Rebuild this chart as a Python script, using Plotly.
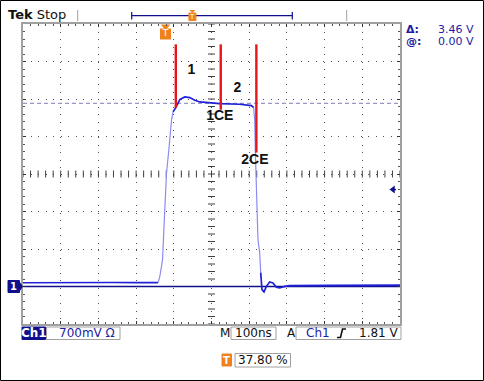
import plotly.graph_objects as go

# ---------------- data (time in ns, voltage in V) ----------------
ns_per_div = 100
volts_per_div = 0.7
ground_div = 3            # ground reference sits 3 div below centre
trigger_pct = 37.80
trigger_level = 1.81
delta_text = "3.46 V"
at_text = "0.00 V"

base_left_t = [-500, -420, -340, -260, -200, -141.6]
base_left_v = [0.070, 0.075, 0.070, 0.075, 0.072, 0.072]
rise_t = [-141.6, -137.1, -132.6, -129.9, -125.2, -119.3, -112.4, -106.1, -101.9]
rise_v = [0.072, 0.19, 0.375, 0.50, 1.244, 2.113, 2.608, 3.105, 3.259]
top_t = [-101.9, -94.7, -84.1, -70.9, -57.6, -44.4, -31.1, -4.6, 21.9, 74.8, 105.8, 111.9]
top_v = [3.259, 3.341, 3.49, 3.538, 3.527, 3.477, 3.445, 3.427, 3.415, 3.402, 3.378, 3.341]
fall_t = [111.9, 114.6, 116.4, 118.0, 123.3, 127.8, 130.5]
fall_v = [3.341, 3.105, 2.491, 2.05, 0.872, 0.63, 0.258]
tail_t = [130.5, 133.9, 139.2, 145.6, 154.3, 163.0, 172.1, 180.8, 194.0, 207.3, 313.2, 400, 500]
tail_v = [0.258, -0.058, -0.101, 0.003, 0.085, 0.067, -0.015, -0.027, 0.003, 0.016, 0.022, 0.024, 0.025]

cursor_ground_v = 0.0
cursor_level_v = 3.42

marker_t = [-94.7, 24.5, 119.0]
marker_top_v = [4.52, 4.52, 4.52]
marker_bottom_v = [3.34, 3.30, 2.50]

label_text = ["1", "2", "1CE", "2CE"]
label_t = [-53, 69, 22, 115]
label_v = [4.03, 3.69, 3.17, 2.36]

# ---------------- layout geometry ----------------
FW, FH = 484, 381
L, T, W, H = 23, 24, 377, 300
R, B = FW - L - W, FH - T - H

x_lo, x_hi = -5 * ns_per_div, 5 * ns_per_div
y_lo = -(4 - ground_div) * volts_per_div
y_hi = (4 + ground_div) * volts_per_div
y_mid = ground_div * volts_per_div


def PX(x):
    return (x - L) / W


def PY(y):
    return (T + H - y) / H


NAVY = "#10108c"
BLUE = "#2020d8"
LIGHT = "#8c8cf0"
TXTBLUE = "#1c1ca4"
ORANGE = "#f0821e"
GREY = "#a0a0a0"
FONT = "DejaVu Sans"

fig = go.Figure()

# graticule centre-line cross ticks
n_minor_x = 50
n_minor_y = 40
cx = [x_lo + i * (x_hi - x_lo) / n_minor_x for i in range(n_minor_x + 1)]
cy = [y_lo + i * (y_hi - y_lo) / n_minor_y for i in range(n_minor_y + 1)]
fig.add_trace(go.Scatter(x=cx, y=[y_mid] * len(cx), mode="markers",
                         marker=dict(symbol="line-ns", size=5, line=dict(width=1, color="#404040")),
                         hoverinfo="skip"))
fig.add_trace(go.Scatter(x=[0] * len(cy), y=cy, mode="markers",
                         marker=dict(symbol="line-ew", size=5, line=dict(width=1, color="#404040")),
                         hoverinfo="skip"))

# cursors
fig.add_trace(go.Scatter(x=[x_lo, x_hi], y=[cursor_level_v] * 2, mode="lines",
                         line=dict(color="#7c7cb8", width=1, dash="4px,3px"), hoverinfo="skip"))
fig.add_trace(go.Scatter(x=[x_lo, x_hi], y=[cursor_ground_v] * 2, mode="lines",
                         line=dict(color=NAVY, width=1.3), hoverinfo="skip"))

# waveform
fig.add_trace(go.Scatter(x=base_left_t, y=base_left_v, mode="lines", line=dict(color=BLUE, width=1.7)))
fig.add_trace(go.Scatter(x=rise_t, y=rise_v, mode="lines", line=dict(color=LIGHT, width=1.2)))
fig.add_trace(go.Scatter(x=top_t, y=top_v, mode="lines", line=dict(color=BLUE, width=1.7)))
fig.add_trace(go.Scatter(x=fall_t, y=fall_v, mode="lines", line=dict(color=LIGHT, width=1.2)))
fig.add_trace(go.Scatter(x=tail_t, y=tail_v, mode="lines", line=dict(color=BLUE, width=1.7)))

# red markers
rx, ry = [], []
for t, a, b in zip(marker_t, marker_top_v, marker_bottom_v):
    rx += [t, t, None]
    ry += [a, b, None]
fig.add_trace(go.Scatter(x=rx, y=ry, mode="lines", line=dict(color="#e8141c", width=2.4)))

fig.add_trace(go.Scatter(x=label_t, y=label_v, mode="text", text=label_text,
                         textfont=dict(family="Liberation Sans", size=14, color="#111111"),
                         texttemplate="<b>%{text}</b>", hoverinfo="skip"))

# trigger position marker (top) and trigger level arrow (right)
trig_t = x_lo + trigger_pct / 100 * (x_hi - x_lo)
vpp = (y_hi - y_lo) / H
fig.add_trace(go.Scatter(x=[trig_t], y=[y_hi - 2.5 * vpp], mode="markers",
                         marker=dict(symbol="triangle-down", size=8, color=ORANGE),
                         cliponaxis=False, hoverinfo="skip"))
fig.add_trace(go.Scatter(x=[trig_t], y=[y_hi - 10 * vpp], mode="markers+text", text=["T"],
                         textposition="middle center",
                         textfont=dict(family=FONT, size=9, color="white"),
                         marker=dict(symbol="square", size=11, color=ORANGE),
                         cliponaxis=False, hoverinfo="skip"))
tpp = (x_hi - x_lo) / W
fig.add_trace(go.Scatter(x=[x_hi - 4 * tpp, x_hi - 8 * tpp], y=[trigger_level] * 2, mode="lines",
                         line=dict(color=NAVY, width=1.5), hoverinfo="skip"))
fig.add_trace(go.Scatter(x=[x_hi - 7 * tpp], y=[trigger_level], mode="markers",
                         marker=dict(symbol="triangle-left", size=7, color=NAVY),
                         hoverinfo="skip"))

shapes = []
ann = []


def rect(x0, y0, x1, y1, fill="white", line=GREY, lw=1):
    shapes.append(dict(type="rect", xref="paper", yref="paper",
                       x0=PX(x0), x1=PX(x1), y0=PY(y0), y1=PY(y1),
                       fillcolor=fill, line=dict(color=line, width=lw), layer="above"))


def line(x0, y0, x1, y1, color, lw=1):
    shapes.append(dict(type="line", xref="paper", yref="paper",
                       x0=PX(x0), x1=PX(x1), y0=PY(y0), y1=PY(y1),
                       line=dict(color=color, width=lw), layer="above"))


def text(s, x, y, anchor="left", size=12, color="#111111", family=FONT):
    ann.append(dict(text=s, xref="paper", yref="paper", x=PX(x), y=PY(y),
                    xanchor=anchor, yanchor="middle", showarrow=False,
                    font=dict(family=family, size=size, color=color), borderpad=0))


# outer frame
rect(0.5, 0.5, FW - 0.5, FH - 0.5, fill="rgba(0,0,0,0)", line="black", lw=1)

# top bar
text("<b>Tek</b> Stop", 7, 15, size=13)
line(77.7, 10, 77.7, 21, GREY)
line(346.7, 10, 346.7, 21, GREY)
bar_l, bar_r = 131.7, 292.3
line(bar_l, 15.7, bar_r, 15.7, NAVY, 1.2)
line(bar_l, 12, bar_l, 19.5, NAVY, 1.2)
line(bar_r, 12, bar_r, 19.5, NAVY, 1.2)
tb = bar_l + trigger_pct / 100 * (bar_r - bar_l)
shapes.append(dict(type="path", xref="paper", yref="paper",
                   path=f"M {PX(tb-3)} {PY(10)} L {PX(tb+3)} {PY(10)} L {PX(tb)} {PY(13)} Z",
                   fillcolor=ORANGE, line=dict(width=0), layer="above"))
rect(tb - 3.5, 13, tb + 3.5, 20.5, fill=ORANGE, line=ORANGE)
text("T", tb, 16.8, anchor="center", size=7, color="white")

# readouts
text("<b>Δ:</b>", 405, 29.5, size=11, color=TXTBLUE)
text(delta_text, 475, 29.5, anchor="right", size=11, color=TXTBLUE)
text("<b>@:</b>", 405, 41.5, size=11, color=TXTBLUE)
text(at_text, 475, 41.5, anchor="right", size=11, color=TXTBLUE)

# ground marker
gy = T + H - (0 - y_lo) / (y_hi - y_lo) * H
rect(8, gy - 6, 19.5, gy + 6, fill=NAVY, line=NAVY)
shapes.append(dict(type="path", xref="paper", yref="paper",
                   path=f"M {PX(19.5)} {PY(gy-5)} L {PX(23)} {PY(gy)} L {PX(19.5)} {PY(gy+5)} Z",
                   fillcolor=NAVY, line=dict(width=0), layer="above"))
text("<b>1</b>", 13.8, gy, anchor="center", size=10, color="white")

# status bar
sy0, sy1 = 327, 339.5
rect(22, sy0, 45.5, sy1, fill=NAVY, line=NAVY)
text("<b>Ch1</b>", 33.8, 333.3, anchor="center", color="white")
rect(46.5, sy0, 120, sy1)
text(f"{int(volts_per_div*1000)}mV Ω", 58, 333.3, color=TXTBLUE)
text("M", 225, 333.3, anchor="center")
rect(231, sy0, 276, sy1)
text(f"{ns_per_div}ns", 253.5, 333.3, anchor="center")
text("A", 291, 333.3, anchor="center")
rect(296, sy0, 401, sy1)
text("Ch1", 305, 333.3, color=TXTBLUE)
shapes.append(dict(type="path", xref="paper", yref="paper",
                   path=f"M {PX(337)} {PY(337.5)} L {PX(340.5)} {PY(337.5)} L {PX(342.5)} {PY(329)} L {PX(346)} {PY(329)}",
                   line=dict(color="#111111", width=1.6), layer="above"))
text(f"{trigger_level:.2f} V", 399.5, 333.3, anchor="right")

rect(222, 354, 231.5, 366, fill=ORANGE, line=ORANGE)
text("<b>T</b>", 226.8, 360, anchor="center", size=10, color="white")
rect(235, 353.5, 290.5, 367)
text(f"{trigger_pct:.2f} %", 262.7, 360.3, anchor="center")

axis_common = dict(showticklabels=False, showgrid=True, gridcolor="#505050", gridwidth=1,
                   zeroline=False, showline=True, linecolor=GREY, linewidth=2,
                   mirror="allticks", ticks="inside", ticklen=3, tickcolor="#333333",
                   fixedrange=True)
fig.update_layout(
    width=FW, height=FH,
    margin=dict(l=L, r=R, t=T, b=B),
    paper_bgcolor="white", plot_bgcolor="white",
    showlegend=False, hovermode=False,
    xaxis=dict(range=[x_lo, x_hi], tick0=x_lo, dtick=ns_per_div, griddash="1px,6.54px",
               minor=dict(dtick=ns_per_div / 5, ticks="inside", ticklen=2, tickcolor="#555555",
                          showgrid=False),
               **axis_common),
    yaxis=dict(range=[y_lo, y_hi], tick0=y_lo, dtick=volts_per_div, griddash="1px,6.5px",
               minor=dict(dtick=volts_per_div / 5, ticks="inside", ticklen=2, tickcolor="#555555",
                          showgrid=False),
               **axis_common),
    shapes=shapes, annotations=ann,
)

fig.write_html("out.html", config={"displayModeBar": False},
               post_script="document.body.style.margin='0';document.body.style.padding='0';")
